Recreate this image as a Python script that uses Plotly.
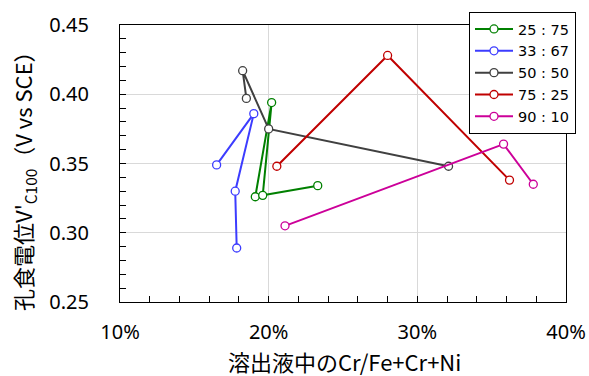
import plotly.graph_objects as go

# Data (x = Cr ratio in dissolved solution, y = pitting potential V'C100)
series_names = ["25 : 75", "33 : 67", "50 : 50", "75 : 25", "90 : 10"]
series_colors = ["#008000", "#3c3cff", "#404040", "#c00000", "#cc0099"]

x_25_75 = [0.191, 0.202, 0.196, 0.233]
y_25_75 = [0.326, 0.394, 0.327, 0.334]

x_33_67 = [0.165, 0.190, 0.1775, 0.1785]
y_33_67 = [0.349, 0.386, 0.330, 0.289]

x_50_50 = [0.185, 0.1825, 0.200, 0.321]
y_50_50 = [0.397, 0.417, 0.375, 0.348]

x_75_25 = [0.2055, 0.280, 0.362]
y_75_25 = [0.348, 0.428, 0.338]

x_90_10 = [0.211, 0.358, 0.378]
y_90_10 = [0.305, 0.364, 0.335]

xs = [x_25_75, x_33_67, x_50_50, x_75_25, x_90_10]
ys = [y_25_75, y_33_67, y_50_50, y_75_25, y_90_10]

x_tickvals = [0.1, 0.2, 0.3, 0.4]
y_tickvals = [0.25, 0.30, 0.35, 0.40, 0.45]

x_title = "溶出液中のCr/Fe+Cr+Ni"
y_title = "孔食電位V'<sub>C100</sub>（V vs SCE）"

fig = go.Figure()
for name, color, x, y in zip(series_names, series_colors, xs, ys):
    fig.add_trace(go.Scatter(
        x=x, y=y, name=name, mode="lines+markers",
        line=dict(color=color, width=2),
        marker=dict(symbol="circle", size=8, color="white",
                    line=dict(color=color, width=1.3)),
    ))

W, H = 589, 376
ml, mr, mt, mb = 120, 23, 25, 74
pw = W - ml - mr
ph = H - mt - mb

fig.update_layout(
    width=W, height=H,
    margin=dict(l=ml, r=mr, t=mt, b=mb, autoexpand=False),
    paper_bgcolor="white", plot_bgcolor="white",
    font=dict(family="Noto Sans", color="#000000"),
    showlegend=True,
    legend=dict(
        x=(469 - ml) / pw, y=(H - mb - 12) / ph,
        xanchor="left", yanchor="top",
        bgcolor="white", bordercolor="black", borderwidth=1,
        font=dict(family="DejaVu Sans", size=14.5, color="#000000"),
        tracegroupgap=0, itemwidth=38,
    ),
    xaxis=dict(
        range=[0.1, 0.4], tickvals=x_tickvals, tickformat=".0%",
        ticks="inside", ticklen=6, tickcolor="black",
        minor=dict(dtick=0.02, ticks="inside", ticklen=6, tickcolor="black", showgrid=False),
        showline=True, linecolor="black", linewidth=1, mirror=True,
        showgrid=True, gridcolor="#d9d9d9", gridwidth=1,
        zeroline=False, automargin=False,
        tickfont=dict(family="Noto Sans", size=20, color="#000000"),
        ticklabelstandoff=12,
    ),
    yaxis=dict(
        range=[0.25, 0.45], tickvals=y_tickvals, tickformat=".2f",
        ticks="inside", ticklen=6, tickcolor="black",
        minor=dict(dtick=0.01, ticks="inside", ticklen=6, tickcolor="black", showgrid=False),
        showline=True, linecolor="black", linewidth=1, mirror=True,
        showgrid=True, gridcolor="#d9d9d9", gridwidth=1,
        zeroline=False, automargin=False,
        tickfont=dict(family="Noto Sans", size=20, color="#000000"),
        ticklabelstandoff=26,
    ),
)

fig.add_annotation(
    text=x_title, xref="paper", yref="paper",
    x=(344 - ml) / pw, y=(H - mb - 361) / ph,
    xanchor="center", yanchor="middle", showarrow=False,
    font=dict(family="Noto Sans CJK JP", size=22, color="#000000"),
)
fig.add_annotation(
    text=y_title, xref="paper", yref="paper",
    x=(23 - ml) / pw, y=(H - mb - 176) / ph,
    xanchor="center", yanchor="middle", showarrow=False, textangle=-90,
    font=dict(family="Noto Sans CJK JP", size=22, color="#000000"),
)

fig.write_html("out.html")
